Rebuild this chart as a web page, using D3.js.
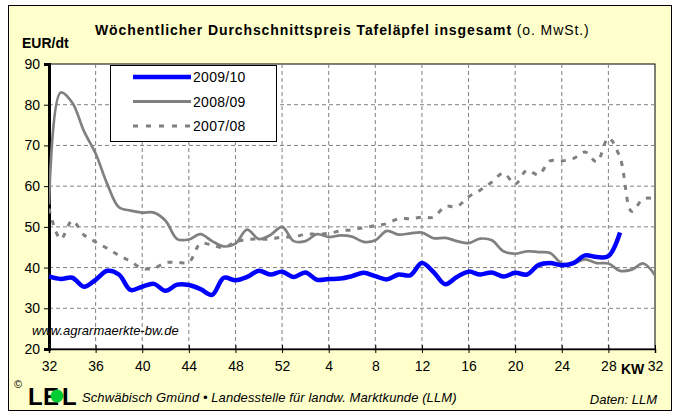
<!DOCTYPE html>
<html><head><meta charset="utf-8">
<script src="https://cdn.jsdelivr.net/npm/d3@7"></script>
<style>body{margin:0;background:#fff}svg{display:block}text{font-family:"Liberation Sans",Arial,sans-serif}</style>
</head><body>
<svg id="c" width="681" height="414"></svg>
<script>
const weekLabels = ["32","36","40","44","48","52","4","8","12","16","20","24","28","32"];
const yTicks = [20,30,40,50,60,70,80,90];
const seriesNames = ["2009/10","2008/09","2007/08"];
const s2009 = [37.8,37.2,37.5,35.3,37.0,39.2,38.3,34.5,35.3,36.0,34.3,35.8,35.7,34.7,33.3,37.5,36.9,37.7,39.2,38.3,39.0,37.7,38.8,37.0,37.2,37.3,37.9,38.7,37.9,37.1,38.3,38.1,41.1,38.9,35.9,37.7,39.0,38.3,38.8,37.8,38.7,38.3,40.6,41.1,40.6,41.1,43.0,42.6,42.8,48.6];
const s2008 = [55.5,83.0,80.5,73.5,68.0,60.5,54.8,54.0,53.5,53.5,51.5,47.0,46.9,48.2,46.5,45.2,45.9,49.3,47.0,48.0,50.0,46.5,46.5,48.2,47.5,47.9,47.6,46.3,46.7,49.0,48.1,48.4,48.6,47.2,47.3,46.5,46.0,47.1,46.7,44.0,43.4,44.0,43.8,43.6,41.0,41.0,42.0,41.1,41.0,39.2,39.5,41.0,38.1];
const s2007 = [54.5,47.0,51.5,48.0,46.3,44.7,43.0,41.5,39.8,39.8,41.2,41.3,41.3,45.9,45.5,44.9,46.3,46.9,47.0,47.0,47.5,47.5,48.2,48.2,48.4,49.0,49.3,49.8,50.3,50.8,52.0,52.0,52.4,52.4,55.0,55.0,57.4,59.0,61.0,63.2,60.5,63.9,62.8,66.2,66.2,66.8,68.4,66.0,71.8,67.0,53.8,56.9,56.9];

const svg = d3.select("#c");
svg.append("rect").attr("x",8.5).attr("y",5.5).attr("width",663).attr("height",405)
  .attr("fill","#FFFFCC").attr("stroke","#000").attr("stroke-width",1);

const X0=49, X1=655, Y0=349, Y1=64;
const x = d3.scaleLinear().domain([0,52]).range([X0,X1]);
const y = d3.scaleLinear().domain([20,90]).range([Y0,Y1]);

svg.append("rect").attr("x",X0).attr("y",Y1).attr("width",X1-X0).attr("height",Y0-Y1)
  .attr("fill","#fff").attr("stroke","#000").attr("stroke-width",1);

const g = svg.append("g");
g.selectAll("line.h").data(yTicks.filter(v=>v>20&&v<90)).join("line")
  .attr("x1",X0).attr("x2",X1).attr("y1",d=>y(d)).attr("y2",d=>y(d))
  .attr("stroke","#808080").attr("stroke-dasharray","4,3");
const xTickIdx = weekLabels.map((_,i)=>i*4);
g.selectAll("line.v").data(xTickIdx.filter(i=>i>0&&i<52)).join("line")
  .attr("x1",d=>x(d)).attr("x2",d=>x(d)).attr("y1",Y1).attr("y2",Y0)
  .attr("stroke","#808080").attr("stroke-dasharray","4,3");

const yAxis = d3.axisLeft(y).tickValues(yTicks).tickSize(5).tickPadding(4);
const ya = svg.append("g").attr("transform",`translate(${X0},0)`).call(yAxis);
ya.select(".domain").attr("stroke-width",3);
ya.selectAll("text").attr("font-size",14).attr("fill","#000").attr("font-family","Liberation Sans, Arial, sans-serif");

const xAxis = d3.axisBottom(x).tickValues(xTickIdx).tickFormat((d,i)=>weekLabels[i]).tickSize(4).tickPadding(8);
const xa = svg.append("g").attr("transform",`translate(0,${Y0})`).call(xAxis);
xa.select(".domain").attr("stroke-width",1.5);
xa.selectAll("text").attr("font-size",14).attr("fill","#000").attr("font-family","Liberation Sans, Arial, sans-serif");
xa.selectAll(".tick line").attr("y1",-4);

const line = d3.line().x((d,i)=>x(i)).y(d=>y(d)).curve(d3.curveCatmullRom.alpha(0.5));
svg.append("clipPath").attr("id","pc").append("rect").attr("x",X0).attr("y",Y1).attr("width",X1-X0).attr("height",Y0-Y1);
const lines = svg.append("g").attr("clip-path","url(#pc)");
lines.append("path").datum(s2007).attr("d",line).attr("fill","none").attr("stroke","#808080").attr("stroke-width",3).attr("stroke-dasharray","5,7");
lines.append("path").datum(s2008).attr("d",line).attr("fill","none").attr("stroke","#808080").attr("stroke-width",2.7);
lines.append("path").datum(s2009).attr("d",line).attr("fill","none").attr("stroke","#0000FF").attr("stroke-width",4.5);

const lg = svg.append("g");
lg.append("rect").attr("x",110.5).attr("y",65.5).attr("width",166).attr("height",76).attr("fill","#fff").attr("stroke","#000");
const lstyles = [{c:"#0000FF",w:4.5,d:null},{c:"#808080",w:3,d:null},{c:"#808080",w:3,d:"5,8"}];
seriesNames.forEach((n,i)=>{
  const yy = 77 + i*24.5;
  lg.append("line").attr("x1",133).attr("x2",191).attr("y1",yy).attr("y2",yy)
    .attr("stroke",lstyles[i].c).attr("stroke-width",lstyles[i].w).attr("stroke-dasharray",lstyles[i].d);
  lg.append("text").attr("x",193).attr("y",yy+5).attr("font-size",14).attr("letter-spacing",0.3).text(n);
});

const t = svg.append("text").attr("x",95).attr("y",35).attr("font-size",14).attr("letter-spacing",0.9);
t.append("tspan").attr("font-weight","bold").text("Wöchentlicher Durchschnittspreis Tafeläpfel insgesamt");
t.append("tspan").text(" (o. MwSt.)");
svg.append("text").attr("x",22).attr("y",48).attr("font-size",14).attr("font-weight","bold").text("EUR/dt");
svg.append("text").attr("x",32).attr("y",335).attr("font-size",13).attr("font-style","italic").text("www.agrarmaerkte-bw.de");
svg.append("text").attr("x",621).attr("y",374).attr("font-size",14).attr("font-weight","bold").text("KW");

svg.append("text").attr("x",14).attr("y",388).attr("font-size",11).text("©");
svg.append("text").attr("x",28).attr("y",405).attr("font-size",24).attr("font-weight","bold").text("L");
svg.append("text").attr("x",43).attr("y",405).attr("font-size",24).attr("font-weight","bold").text("E");
svg.append("circle").attr("cx",57).attr("cy",396).attr("r",6.5).attr("fill","#00CC33");
svg.append("text").attr("x",62).attr("y",405).attr("font-size",24).attr("font-weight","bold").text("L");
svg.append("text").attr("x",82).attr("y",402).attr("font-size",13).attr("font-style","italic").attr("letter-spacing",0.1).text("Schwäbisch Gmünd • Landesstelle für landw. Marktkunde (LLM)");
svg.append("text").attr("x",657).attr("y",404).attr("font-size",13).attr("font-style","italic").attr("text-anchor","end").text("Daten: LLM");
</script>
</body></html>
